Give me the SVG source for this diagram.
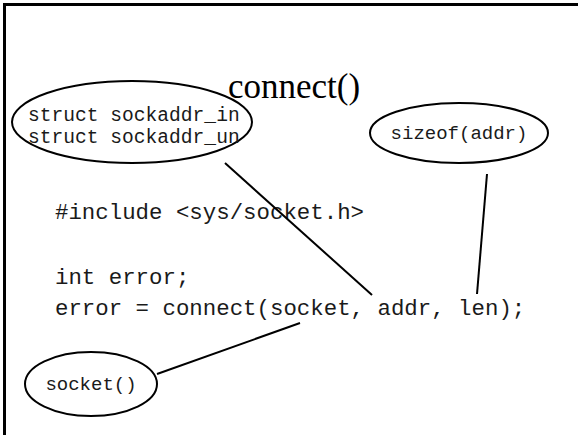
<svg xmlns="http://www.w3.org/2000/svg" width="579" height="435" viewBox="0 0 579 435">
  <style>
    .frame { stroke: #000; stroke-width: 3; fill: none; }
    .node { fill: #fff; stroke: #000; stroke-width: 2; }
    .conn { stroke: #000; stroke-width: 2; fill: none; }
    .mono { font-family: "Liberation Mono", "Courier New", monospace; fill: #1a1a1a; }
    .label { font-size: 19px; }
    .label-wide { font-size: 19.6px; }
    .code { font-size: 22.4px; }
    .title { font-family: "Liberation Serif", "Times New Roman", serif; font-size: 35px; fill: #000; }
  </style>
  <rect width="579" height="435" fill="#fff"/>
  <!-- slide frame: top and left edges -->
  <path class="frame" d="M4.5 435 V4.5 H578"/>

  <text class="title" x="228" y="98">connect()</text>

  <!-- code listing -->
  <g id="code">
    <text class="mono code" x="55" y="219">#include &lt;sys/socket.h&gt;</text>
    <text class="mono code" x="55" y="284">int error;</text>
    <text class="mono code" x="55" y="315">error = connect(socket, addr, len);</text>
  </g>

  <!-- connectors from annotations to arguments -->
  <g id="connectors">
    <line class="conn" x1="225" y1="163" x2="372" y2="295"/>
    <line class="conn" x1="487" y1="174" x2="477" y2="294"/>
    <line class="conn" x1="300" y1="323" x2="157" y2="374"/>
  </g>

  <g id="node-sockaddr">
    <ellipse class="node" cx="132" cy="122" rx="120" ry="41"/>
    <text class="mono label-wide" x="28" y="121">struct sockaddr_in</text>
    <text class="mono label-wide" x="28" y="143">struct sockaddr_un</text>
  </g>

  <g id="node-sizeof">
    <ellipse class="node" cx="459" cy="133" rx="89" ry="30"/>
    <text class="mono label" x="459" y="139" text-anchor="middle">sizeof(addr)</text>
  </g>

  <g id="node-socket">
    <ellipse class="node" cx="91" cy="384" rx="66" ry="32"/>
    <text class="mono label" x="91" y="390" text-anchor="middle">socket()</text>
  </g>
</svg>
